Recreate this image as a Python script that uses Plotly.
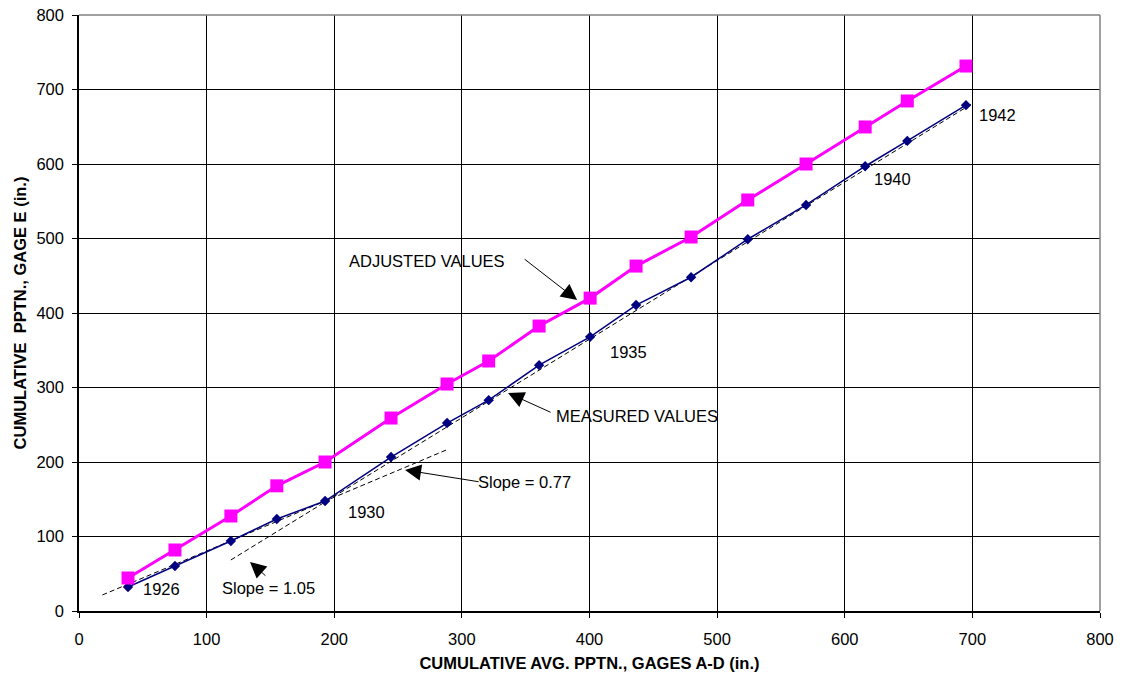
import plotly.graph_objects as go

# Data
avg_pptn = [38.4, 75.2, 119, 155, 192.8, 244.5, 288.4, 321, 360.5, 400.5,
            436.5, 479.6, 524, 569.7, 616, 649, 695]
measured = [32.2, 60.4, 94, 123.5, 147.6, 206.7, 252.3, 283, 330, 368,
            410.7, 448, 499, 545, 597, 631, 679]
adjusted = [44.3, 81.9, 127.5, 168, 200, 259, 304.7, 335.6, 382.5, 420,
            463, 502, 551.7, 600, 649.7, 684.6, 731.5]

# Dashed trend lines (endpoints)
trend1_x = [18.3, 289]
trend1_y = [21.5, 217]
trend2_x = [119, 700.6]
trend2_y = [68.5, 681.9]

x_ticks = [0, 100, 200, 300, 400, 500, 600, 700, 800]
y_ticks = [0, 100, 200, 300, 400, 500, 600, 700, 800]

FONT = "Liberation Sans, Arial, sans-serif"
FS = 16.5

fig = go.Figure()
fig.add_trace(go.Scatter(x=trend1_x, y=trend1_y, mode="lines",
                         line=dict(color="black", width=1, dash="5px,3px"),
                         showlegend=False, hoverinfo="skip"))
fig.add_trace(go.Scatter(x=trend2_x, y=trend2_y, mode="lines",
                         line=dict(color="black", width=1, dash="5px,3px"),
                         showlegend=False, hoverinfo="skip"))
fig.add_trace(go.Scatter(x=avg_pptn, y=measured, mode="lines+markers",
                         line=dict(color="#000080", width=1.5),
                         marker=dict(symbol="diamond", size=8, color="#000080"),
                         name="Measured", showlegend=False))
fig.add_trace(go.Scatter(x=avg_pptn, y=adjusted, mode="lines+markers",
                         line=dict(color="#FF00FF", width=3),
                         marker=dict(symbol="square", size=13, color="#FF00FF"),
                         name="Adjusted", showlegend=False))

texts = [
    ("1926", 65, 30.2),
    ("Slope = 1.05", 148.5, 30.9),
    ("1930", 225, 132.9),
    ("Slope = 0.77", 348.7, 173),
    ("ADJUSTED VALUES", 272.4, 469.8),
    ("1935", 430.6, 348.3),
    ("MEASURED VALUES", 437, 261.3),
    ("1940", 637.8, 579.8),
    ("1942", 719.4, 665.8),
]
arrows = [
    (134, 65.8, 147.3, 45.6),
    (255.5, 189.3, 314.3, 173.2),
    (390.3, 417.4, 348, 473.8),
    (336.2, 292.6, 370.7, 265.8),
]

annotations = []
for t, x, y in texts:
    annotations.append(dict(text=t, x=x, y=y, xref="x", yref="y",
                            showarrow=False, xanchor="center", yanchor="middle",
                            font=dict(family=FONT, size=FS, color="black")))
for x, y, ax, ay in arrows:
    annotations.append(dict(text="", x=x, y=y, ax=ax, ay=ay, xref="x", yref="y",
                            axref="x", ayref="y", showarrow=True,
                            arrowhead=2, arrowsize=3.2, arrowwidth=1,
                            arrowcolor="black"))

fig.update_layout(
    width=1121, height=683,
    margin=dict(l=79, r=21, t=15, b=72),
    paper_bgcolor="white", plot_bgcolor="white",
    font=dict(family=FONT, size=FS, color="black"),
    annotations=annotations,
    shapes=[
        dict(type="line", xref="paper", yref="paper", x0=0, x1=1, y0=1, y1=1,
             line=dict(color="#808080", width=1.5)),
        dict(type="line", xref="paper", yref="paper", x0=1, x1=1, y0=0, y1=1,
             line=dict(color="#808080", width=1.5)),
    ],
)
fig.update_xaxes(range=[0, 800], tickvals=x_ticks, ticktext=[str(v) for v in x_ticks],
                 showgrid=True, gridcolor="#000000", gridwidth=1,
                 showline=True, linecolor="black", linewidth=1.5,
                 ticks="outside", ticklen=5, tickcolor="black",
                 ticklabelstandoff=7,
                 zeroline=False, automargin=False,
                 tickfont=dict(family=FONT, size=FS),
                 title=dict(text="<b>CUMULATIVE AVG. PPTN., GAGES A-D (in.)</b>",
                            font=dict(family=FONT, size=FS), standoff=11))
fig.update_yaxes(range=[0, 800], tickvals=y_ticks, ticktext=[str(v) for v in y_ticks],
                 showgrid=True, gridcolor="#000000", gridwidth=1,
                 showline=True, linecolor="black", linewidth=1.5,
                 ticks="outside", ticklen=5, tickcolor="black",
                 ticklabelstandoff=5,
                 zeroline=False, automargin=False,
                 tickfont=dict(family=FONT, size=FS),
                 title=dict(text="<b>CUMULATIVE  PPTN., GAGE E (in.)</b>",
                            font=dict(family=FONT, size=FS), standoff=6))

# remove the default 8px page margin so the figure sits at the window origin
fig.write_html("out.html", config={"displayModeBar": False},
               post_script="document.body.style.margin='0';")
